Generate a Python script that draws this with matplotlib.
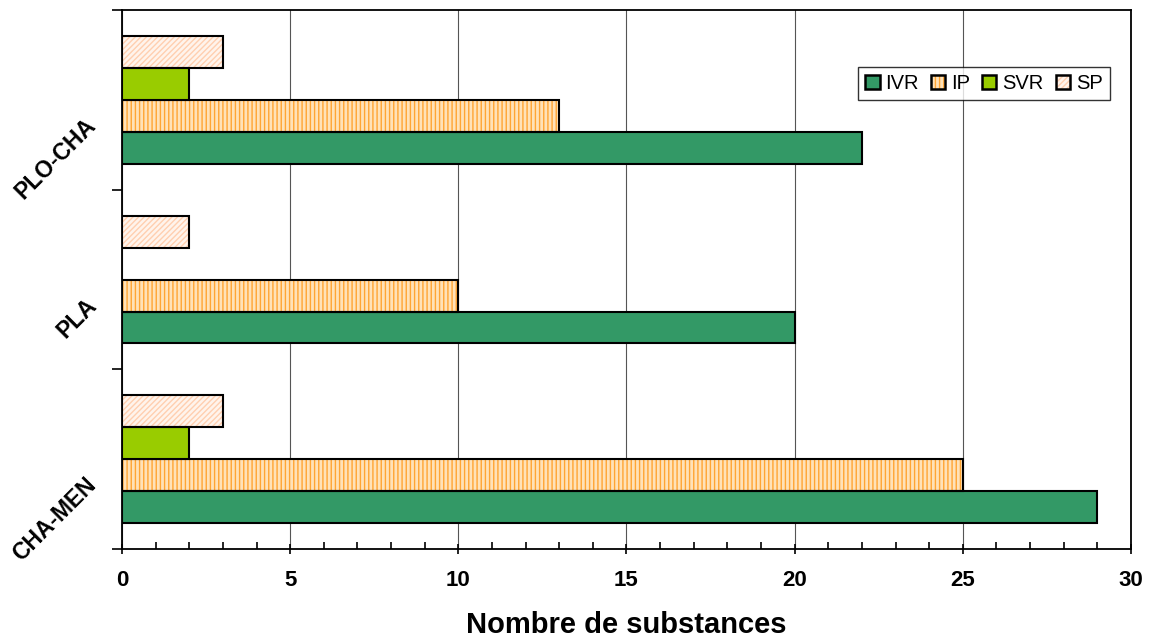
import matplotlib
matplotlib.use('Agg')
import matplotlib.pyplot as plt
import numpy as np
from matplotlib.patches import Patch
from matplotlib.ticker import MultipleLocator, FixedLocator

plt.rcParams['font.family'] = ['Liberation Sans', 'DejaVu Sans']

sites = ['CHA-MEN', 'PLA', 'PLO-CHA']
series = ['IVR', 'IP', 'SVR', 'SP']
ivr = [29, 20, 22]
ip = [25, 10, 13]
svr = [2, 0, 2]
sp = [3, 2, 3]

# fill colour, hatch pattern and hatch colour per series
styles = {
    'IVR': dict(face='#339966', hatch=None, hcol=None),
    'IP': dict(face='#FFE2B8', hatch='||||', hcol='#FFA533'),
    'SVR': dict(face='#99CC00', hatch=None, hcol=None),
    'SP': dict(face='#FFF4EC', hatch='//////', hcol='#FFCFB0'),
}

fig = plt.figure(figsize=(11.51, 6.39), dpi=100)
ax = fig.add_axes([0.106, 0.141, 0.8766, 0.843])

y = np.arange(len(sites))
h = 0.178
edge_w = 1.5
values = [ivr, ip, svr, sp]
for i, (name, vals) in enumerate(zip(series, values)):
    st = styles[name]
    pos = y + (i - 1.5) * h
    for yy, v in zip(pos, vals):
        if v == 0:
            continue
        if st['hatch']:
            # hatch drawn with its own colour, black outline on top
            ax.barh(yy, v, height=h, color=st['face'], hatch=st['hatch'],
                    edgecolor=st['hcol'], linewidth=0, zorder=2)
            ax.barh(yy, v, height=h, fill=False, edgecolor='black',
                    linewidth=edge_w, zorder=3)
        else:
            ax.barh(yy, v, height=h, color=st['face'], edgecolor='black',
                    linewidth=edge_w, zorder=3)

ax.set_xlim(0, 30)
ax.set_ylim(-0.5, 2.5)
ax.xaxis.set_major_locator(MultipleLocator(5))
ax.xaxis.set_minor_locator(MultipleLocator(1))
ax.grid(axis='x', which='major', color='#555555', linewidth=0.8, zorder=0)
ax.set_axisbelow(True)

# category boundaries get the tick marks, names sit below each group centre
ax.yaxis.set_major_locator(FixedLocator([-0.5, 0.5, 1.5, 2.5]))
ax.set_yticklabels([])
ax.yaxis.set_minor_locator(FixedLocator(y - 0.125))
ax.set_yticklabels(sites, minor=True, rotation=45, fontsize=16.5,
                   fontweight='bold', ha='right', va='center',
                   rotation_mode='anchor')
ax.tick_params(axis='y', which='minor', length=0, pad=21)
ax.tick_params(axis='y', which='major', length=7, width=1.2, direction='out')
ax.tick_params(axis='x', which='major', length=7, width=1.2, direction='inout',
               labelsize=16, pad=12)
ax.tick_params(axis='x', which='minor', length=5, width=1.2, direction='in')
for lbl in ax.get_xticklabels():
    lbl.set_fontweight('bold')

for spine in ax.spines.values():
    spine.set_linewidth(1.3)

ax.set_xlabel('Nombre de substances', fontsize=21, fontweight='bold', labelpad=14)

handles = []
for n in series:
    st = styles[n]
    if st['hatch']:
        handles.append((Patch(facecolor=st['face'], edgecolor=st['hcol'],
                              hatch=st['hatch'], linewidth=0),
                        Patch(fill=False, edgecolor='black', linewidth=1.8)))
    else:
        handles.append(Patch(facecolor=st['face'], edgecolor='black', linewidth=1.8))

leg = ax.legend(handles, series, loc='upper right', ncol=4, fontsize=14.5,
                bbox_to_anchor=(0.979, 0.894), borderaxespad=0,
                frameon=True, fancybox=False,
                handlelength=0.7, handleheight=0.7, handletextpad=0.3,
                columnspacing=0.6, borderpad=0.35)
leg.get_frame().set_edgecolor('black')
leg.get_frame().set_linewidth(1)

fig.savefig('out.png', dpi=100)
